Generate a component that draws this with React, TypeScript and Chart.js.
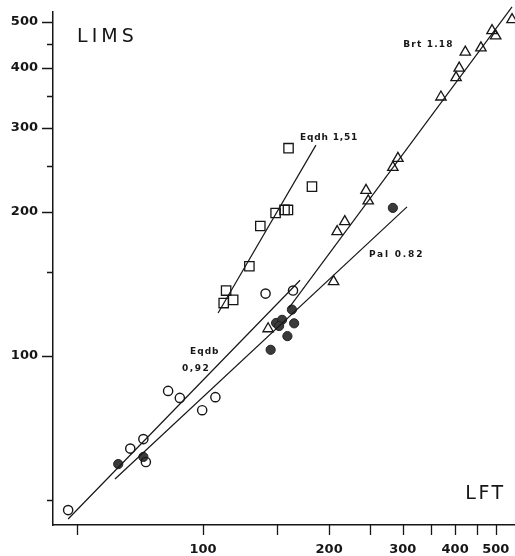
import React, { useEffect, useRef } from "react";
import { Chart, registerables } from "chart.js";

Chart.register(...registerables);

// ---- Data (LFT on x, LIMS on y) ----
const majorTicks = [100, 200, 300, 400, 500];
const minorTicks = [50, 150, 250, 350, 450];

// Eqdh (open squares)
const eqdhLFT = [160, 182, 149, 156.5, 159.5, 137, 129, 113.5, 112, 118];
const eqdhLIMS = [272, 226, 199, 202, 202, 187, 154, 137, 129, 131];

// Brt (open triangles)
const brtLFT = [547, 490, 500, 461, 423, 409, 402, 370, 292, 284, 245, 248, 218, 209, 205, 143];
const brtLIMS = [505, 479, 467, 441, 432, 400, 382, 348, 259, 248, 222, 211, 191, 182, 143, 114];

// Eqdb (open circles)
const eqdbLFT = [47.6, 67, 72, 73, 82.5, 88, 107, 99.5, 141, 164];
const eqdbLIMS = [47.6, 64, 67, 60, 84.5, 81.7, 82, 77, 135, 137];

// Pal (filled circles)
const palLFT = [62.7, 72, 145, 159, 165, 163, 149.4, 154.4, 151.9, 284];
const palLIMS = [59.4, 61.5, 103, 110, 117, 125, 117.2, 119, 115.5, 204];

// Regression lines (end points)
const eqdbLineLFT = [47.6, 170.5];
const eqdbLineLIMS = [45.6, 144];
const palLineLFT = [61.6, 307];
const palLineLIMS = [55.3, 205];
const eqdhLineLFT = [108.6, 186];
const eqdhLineLIMS = [123, 276];
const brtLineLFT = [160.4, 547];
const brtLineLIMS = [126, 537];

// Text annotations (in data coordinates)
const notes = [
  { text: "LIMS", x: 50, y: 465, size: 19, bold: false, spacing: 4 },
  { text: "LFT", x: 423, y: 51.4, size: 19, bold: false, spacing: 2.5 },
  { text: "Brt 1.18", x: 300.6, y: 447, size: 9, bold: true, spacing: 1.2 },
  { text: "Eqdh 1,51", x: 170.5, y: 286, size: 9, bold: true, spacing: 0.8 },
  { text: "Pal 0.82", x: 249, y: 162.6, size: 9, bold: true, spacing: 1.8 },
  { text: "Eqdb", x: 93.1, y: 102, size: 9, bold: true, spacing: 1 },
  { text: "0,92", x: 89.1, y: 93.9, size: 9, bold: true, spacing: 1.5 },
];

const pts = (xs: number[], ys: number[]) => xs.map((v, i) => ({ x: v, y: ys[i] }));

const INK = "#161616";
const FONT = "'DejaVu Sans', sans-serif";

const decorPlugin = {
  id: "decor",
  afterDraw(chart: any) {
    const { ctx, chartArea } = chart;
    const xs = chart.scales.x;
    const ys = chart.scales.y;
    ctx.save();
    ctx.strokeStyle = INK;
    ctx.lineWidth = 1.3;
    ctx.beginPath();
    for (const v of [...majorTicks, ...minorTicks]) {
      const px = Math.round(xs.getPixelForValue(v)) + 0.5;
      ctx.moveTo(px, chartArea.bottom);
      ctx.lineTo(px, chartArea.bottom + 10);
      const py = Math.round(ys.getPixelForValue(v)) + 0.5;
      const len = majorTicks.includes(v) ? 11 : 6;
      ctx.moveTo(chartArea.left, py);
      ctx.lineTo(chartArea.left - len, py);
    }
    ctx.stroke();
    ctx.fillStyle = INK;
    ctx.textBaseline = "middle";
    ctx.textAlign = "left";
    for (const n of notes) {
      ctx.font = `${n.bold ? "bold " : ""}${n.size}px ${FONT}`;
      (ctx as any).letterSpacing = `${n.spacing}px`;
      ctx.fillText(n.text, xs.getPixelForValue(n.x), ys.getPixelForValue(n.y));
    }
    ctx.restore();
  },
};

const zeroPad = (s: any) => {
  s.paddingTop = 0;
  s.paddingBottom = 0;
  s.paddingLeft = 0;
  s.paddingRight = 0;
};

export default function App() {
  const ref = useRef<HTMLCanvasElement | null>(null);

  useEffect(() => {
    if (!ref.current) return;
    const lineDs = (xs: number[], ys: number[], clip: any) => ({
      data: pts(xs, ys),
      showLine: true,
      pointRadius: 0,
      borderColor: INK,
      borderWidth: 1.2,
      fill: false,
      clip,
    });
    const tickFont = { family: FONT, size: 13, weight: "bold" as const };
    const chart = new Chart(ref.current, {
      type: "scatter",
      data: {
        datasets: [
          lineDs(eqdbLineLFT, eqdbLineLIMS, false),
          lineDs(palLineLFT, palLineLIMS, false),
          lineDs(eqdhLineLFT, eqdhLineLIMS, false),
          lineDs(brtLineLFT, brtLineLIMS, false),
          {
            data: pts(eqdhLFT, eqdhLIMS),
            pointStyle: "rect",
            pointRadius: 6.6,
            backgroundColor: "rgba(0,0,0,0)",
            borderColor: INK,
            borderWidth: 1.3,
          },
          {
            data: pts(brtLFT, brtLIMS),
            pointStyle: "triangle",
            pointRadius: 6,
            backgroundColor: "rgba(0,0,0,0)",
            borderColor: INK,
            borderWidth: 1.3,
          },
          {
            data: pts(eqdbLFT, eqdbLIMS),
            pointStyle: "circle",
            pointRadius: 4.6,
            backgroundColor: "rgba(0,0,0,0)",
            borderColor: INK,
            borderWidth: 1.4,
          },
          {
            data: pts(palLFT, palLIMS),
            pointStyle: "circle",
            pointRadius: 4.6,
            backgroundColor: "#3a3a3a",
            borderColor: "#222",
            borderWidth: 1,
          },
        ],
      },
      options: {
        animation: false,
        responsive: false,
        devicePixelRatio: 1,
        layout: { padding: { top: 12, left: 0, right: 0, bottom: 0 }, autoPadding: false } as any,
        plugins: { legend: { display: false }, tooltip: { enabled: false } },
        scales: {
          x: {
            type: "logarithmic",
            min: 43.8,
            max: 556,
            afterBuildTicks: (s: any) => {
              s.ticks = majorTicks.map((v) => ({ value: v }));
            },
            afterFit: (s: any) => {
              s.height = 31;
              zeroPad(s);
            },
            grid: { display: false },
            border: { display: true, color: INK, width: 1.5 },
            ticks: {
              autoSkip: false,
              maxRotation: 0,
              padding: 9,
              color: INK,
              font: tickFont,
              callback: (v: any) => String(v),
            },
          },
          y: {
            type: "logarithmic",
            min: 44.3,
            max: 524,
            afterBuildTicks: (s: any) => {
              s.ticks = majorTicks.map((v) => ({ value: v }));
            },
            afterFit: (s: any) => {
              s.width = 53;
              zeroPad(s);
            },
            grid: { display: false },
            border: { display: true, color: INK, width: 1.5 },
            ticks: {
              autoSkip: false,
              padding: 7,
              color: INK,
              font: tickFont,
              callback: (v: any) => String(v),
            },
          },
        },
      },
      plugins: [decorPlugin],
    });
    return () => chart.destroy();
  }, []);

  return (
    <div
      style={{
        position: "fixed",
        left: 0,
        top: 0,
        width: 515,
        height: 556,
        overflow: "hidden",
        background: "#fff",
      }}
    >
      <canvas ref={ref} width={515} height={556} style={{ display: "block" }} />
    </div>
  );
}
